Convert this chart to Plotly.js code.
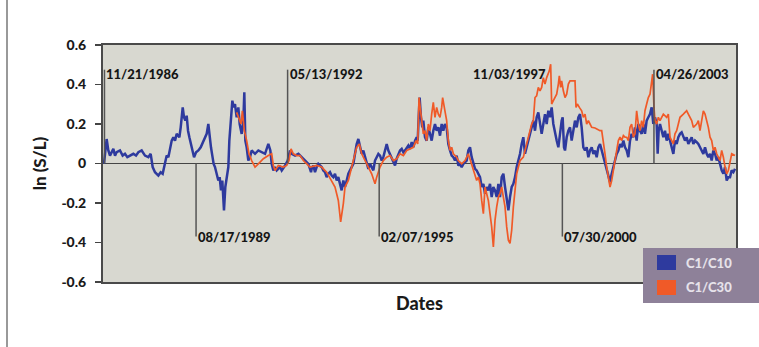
<!DOCTYPE html>
<html>
<head>
<meta charset="utf-8">
<script src="https://cdn.plot.ly/plotly-3.0.1.min.js"></script>
<style>html,body{margin:0;padding:0;background:#fff;}#chart{width:759px;height:347px;}</style>
</head>
<body>
<div id="chart"></div>
<script>
// ---- data (x in decimal years, y = ln(S/L)) ----
const seriesNames = ['C1/C10', 'C1/C30'];

const c10Dates = [
1986.874,1986.953,1987.003,1987.053,1987.153,1987.203,1987.252,1987.352,1987.432,1987.502,1987.572,1987.651,1987.751,1987.831,1987.901,1988.000,1988.100,1988.200,1988.269,1988.329,1988.399,1988.499,1988.568,1988.628,1988.698,1988.748,1988.798,1988.848,1988.898,1988.947,1988.997,1989.047,1989.127,1989.167,1989.227,1989.266,1989.306,1989.346,1989.386,1989.426,1989.466,1989.506,1989.566,1989.626,1989.695,1989.765,1989.845,1989.943,1989.993,
1990.033,1990.072,1990.112,1990.152,1990.192,1990.242,1990.292,1990.332,1990.371,1990.411,1990.461,1990.501,1990.551,1990.591,1990.621,1990.661,1990.711,1990.750,1990.790,1990.840,1990.890,1990.930,1990.990,1991.040,1991.069,1991.099,1991.139,1991.189,1991.239,1991.289,1991.389,1991.488,1991.588,1991.688,1991.787,1991.847,1991.887,1991.937,1991.987,1992.037,1992.136,1992.186,1992.286,1992.366,1992.435,1992.485,1992.585,1992.685,1992.784,1992.884,1992.984,1993.063,
1993.082,1993.132,1993.182,1993.231,1993.281,1993.331,1993.381,1993.431,1993.481,1993.530,1993.580,1993.630,1993.680,1993.730,1993.780,1993.830,1993.879,1993.929,1993.979,1994.029,1994.079,1994.129,1994.179,1994.228,1994.278,1994.328,1994.378,1994.428,1994.478,1994.528,1994.577,1994.627,1994.677,1994.727,1994.777,1994.827,1994.876,1994.926,1994.976,1995.026,1995.076,1995.126,1995.176,1995.225,1995.275,1995.325,1995.375,1995.425,1995.475,1995.525,1995.574,1995.624,1995.674,1995.724,1995.774,1995.824,1995.874,1995.923,1995.973,1996.023,1996.073,1996.123,1996.173,1996.222,1996.252,1996.282,1996.310,
1996.350,1996.390,1996.420,1996.470,1996.520,1996.570,1996.620,1996.670,1996.719,1996.769,1996.819,1996.869,1996.919,1996.969,1997.018,1997.068,1997.118,1997.168,1997.218,1997.268,1997.318,1997.367,1997.417,1997.467,1997.517,1997.567,1997.617,1997.667,1997.716,1997.766,1997.816,1997.866,1997.916,1997.966,1998.015,1998.065,1998.115,1998.165,1998.215,1998.265,1998.315,1998.364,1998.414,1998.464,1998.514,1998.564,1998.614,1998.664,1998.713,1998.763,1998.813,1998.863,1998.913,1998.963,1999.012,1999.062,1999.112,1999.162,1999.212,1999.262,1999.312,1999.361,
1999.410,1999.460,1999.509,1999.559,1999.609,1999.659,1999.709,1999.759,1999.809,1999.858,1999.908,1999.958,2000.008,2000.058,2000.108,2000.157,2000.207,2000.257,2000.307,2000.357,2000.407,2000.457,2000.506,2000.556,2000.586,2000.626,2000.656,2000.706,2000.756,2000.806,2000.855,2000.905,2000.955,2001.005,2001.055,2001.105,2001.154,2001.204,2001.254,2001.304,2001.354,2001.404,2001.454,2001.503,2001.553,2001.603,2001.653,2001.703,2001.753,2001.803,2001.852,2001.902,2001.952,2002.002,2002.052,2002.102,2002.151,2002.201,2002.251,2002.301,2002.351,2002.401,2002.450,2002.500,
2002.549,2002.599,2002.648,2002.698,2002.748,2002.798,2002.848,2002.898,2002.948,2002.997,2003.047,2003.097,2003.147,2003.197,2003.247,2003.296,2003.346,2003.396,2003.426,2003.456,2003.496,2003.546,2003.596,2003.645,2003.695,2003.745,2003.795,2003.845,2003.895,2003.944,2003.994,2004.044,2004.094,2004.144,2004.194,2004.243,2004.293,2004.343,2004.393,2004.443,2004.493,2004.543,2004.593,2004.642,2004.692,2004.742,2004.792,2004.842,2004.892,2004.941,2004.991,2005.041,2005.091,2005.141,2005.191,2005.240,2005.290,2005.340,2005.390,2005.440,2005.490,2005.539,2005.589,2005.639,2005.689,2005.739
];
const c10Values = [
0.000,0.124,0.066,0.040,0.074,0.040,0.057,0.066,0.040,0.049,0.032,0.040,0.049,0.040,0.057,0.066,0.040,0.032,0.049,-0.018,-0.044,-0.061,-0.044,-0.052,0.007,0.040,0.032,0.082,0.116,0.133,0.116,0.150,0.133,0.183,0.284,0.234,0.217,0.242,0.166,0.133,0.099,0.066,0.032,0.057,0.066,0.082,0.116,0.150,0.200,
0.133,0.082,0.040,-0.002,-0.018,-0.052,-0.086,-0.069,-0.136,-0.086,-0.237,-0.119,-0.069,-0.018,0.116,0.200,0.318,0.284,0.301,0.234,0.284,0.200,0.150,0.217,0.360,0.116,0.082,0.015,0.032,0.066,0.049,0.066,0.057,0.049,0.099,0.066,-0.002,-0.035,-0.018,-0.035,-0.018,-0.035,-0.010,0.015,0.066,0.049,0.040,0.049,0.032,0.015,-0.002,-0.044,
-0.027,-0.010,-0.044,-0.018,-0.002,-0.010,-0.018,-0.035,-0.044,-0.069,-0.052,-0.044,-0.061,-0.069,-0.052,-0.086,-0.069,-0.103,-0.136,-0.086,-0.119,-0.086,-0.052,-0.035,-0.018,-0.002,0.049,0.099,0.124,0.082,0.049,0.066,0.032,-0.002,-0.027,-0.002,-0.018,-0.035,0.015,0.032,0.049,0.040,0.015,0.032,0.066,0.099,0.066,0.049,0.032,0.015,-0.010,0.024,0.049,0.066,0.074,0.057,0.066,0.082,0.091,0.074,0.108,0.082,0.116,0.133,0.116,0.234,0.334,
0.234,0.183,0.217,0.133,0.116,0.183,0.150,0.116,0.166,0.200,0.166,0.183,0.141,0.200,0.166,0.200,0.183,0.099,0.066,0.040,0.032,0.015,0.040,-0.010,-0.002,-0.018,-0.002,0.007,0.015,0.066,0.082,0.032,-0.002,-0.027,-0.035,-0.052,-0.069,-0.119,-0.103,-0.153,-0.119,-0.136,-0.103,-0.170,-0.119,-0.136,-0.170,-0.103,-0.170,-0.069,-0.052,-0.119,-0.187,-0.237,-0.170,-0.119,-0.103,-0.069,-0.018,0.015,0.049,0.099,
0.133,0.049,0.082,0.116,0.150,0.183,0.217,0.166,0.234,0.259,0.200,0.150,0.200,0.250,0.200,0.267,0.234,0.284,0.200,0.150,0.116,0.082,0.166,0.217,0.234,0.082,0.066,0.133,0.166,0.183,0.116,0.166,0.217,0.183,0.234,0.250,0.183,0.082,0.066,0.082,0.032,0.066,0.082,0.049,0.066,0.032,0.082,0.099,0.066,0.032,-0.002,-0.035,-0.069,-0.094,-0.052,-0.018,0.015,0.049,0.066,0.099,0.082,0.116,0.082,0.066,
0.032,0.116,0.150,0.133,0.183,0.116,0.200,0.166,0.150,0.200,0.150,0.217,0.234,0.250,0.284,0.200,0.234,0.200,0.049,0.166,0.200,0.166,0.133,0.166,0.116,0.150,0.116,0.082,0.049,0.116,0.099,0.133,0.150,0.158,0.141,0.116,0.133,0.099,0.116,0.133,0.099,0.116,0.108,0.099,0.082,0.066,0.049,0.082,0.049,0.032,0.049,0.015,0.066,0.049,0.015,0.032,-0.002,-0.035,-0.052,-0.018,-0.086,-0.069,-0.069,-0.035,-0.044,-0.027
];

const c30Dates = [
1990.840,1990.890,1990.970,1991.010,1991.069,1991.139,1991.209,1991.289,1991.389,1991.488,1991.638,1991.787,1991.887,1991.937,1991.987,1992.086,1992.236,1992.336,1992.405,1992.465,1992.535,1992.635,1992.734,1992.834,1992.934,1993.033,
1993.231,1993.381,1993.530,1993.680,1993.780,1993.879,1993.949,1994.029,1994.079,1994.179,1994.248,1994.328,1994.428,1994.508,1994.577,1994.677,1994.777,1994.876,1994.976,1995.026,1995.126,1995.225,1995.325,1995.425,1995.525,1995.624,1995.724,1995.824,1995.923,1996.023,1996.123,1996.202,1996.252,1996.292,
1996.370,1996.420,1996.470,1996.520,1996.570,1996.620,1996.670,1996.719,1996.769,1996.819,1996.869,1996.919,1996.969,1996.998,1997.048,1997.118,1997.168,1997.218,1997.268,1997.318,1997.417,1997.467,1997.567,1997.667,1997.766,1997.866,1997.966,1998.015,1998.065,1998.115,1998.165,1998.215,1998.265,1998.315,1998.364,1998.414,1998.464,1998.514,1998.564,1998.614,1998.664,1998.713,1998.763,1998.813,1998.863,1998.913,1998.963,1999.012,1999.062,1999.112,1999.162,1999.212,1999.262,1999.312,
1999.410,1999.460,1999.509,1999.559,1999.609,1999.659,1999.709,1999.759,1999.809,1999.858,1999.908,1999.958,2000.008,2000.058,2000.108,2000.157,2000.187,2000.227,2000.257,2000.307,2000.357,2000.407,2000.457,2000.486,2000.526,2000.556,2000.606,2000.656,2000.706,2000.756,2000.806,2000.955,2000.985,2001.025,2001.085,2001.154,2001.204,2001.254,2001.304,2001.354,2001.404,2001.454,2001.553,2001.703,2001.753,2001.803,2001.852,2001.902,2001.952,2002.002,2002.052,2002.102,2002.151,2002.201,2002.251,2002.301,2002.351,2002.401,2002.450,2002.500,2002.550,
2002.599,2002.648,2002.698,2002.748,2002.798,2002.848,2002.898,2002.948,2002.997,2003.047,2003.097,2003.147,2003.197,2003.247,2003.276,2003.316,2003.346,2003.396,2003.446,2003.496,2003.546,2003.596,2003.695,2003.745,2003.795,2003.845,2003.895,2003.944,2003.994,2004.044,2004.094,2004.194,2004.293,2004.343,2004.393,2004.443,2004.493,2004.593,2004.642,2004.692,2004.742,2004.792,2004.842,2004.892,2004.941,2004.991,2005.041,2005.091,2005.141,2005.191,2005.240,2005.290,2005.340,2005.390,2005.440,2005.490,2005.539,2005.589,2005.639,2005.739
];
const c30Values = [
0.259,0.234,0.200,0.267,0.166,0.116,0.049,0.015,-0.018,-0.002,0.024,0.040,0.049,-0.010,-0.035,-0.010,-0.018,-0.010,0.015,0.074,0.049,0.040,0.040,0.015,-0.002,-0.018,
-0.010,-0.018,-0.044,-0.086,-0.119,-0.187,-0.296,-0.203,-0.119,-0.086,-0.044,0.015,0.082,0.099,0.049,0.015,-0.018,-0.052,-0.103,-0.069,-0.018,0.015,0.032,0.040,0.015,0.024,0.049,0.040,0.066,0.074,0.082,0.116,0.099,0.334,
0.217,0.150,0.166,0.116,0.200,0.166,0.250,0.309,0.234,0.284,0.250,0.234,0.284,0.334,0.284,0.217,0.116,0.066,0.082,0.049,0.032,0.015,-0.002,0.015,0.049,-0.002,-0.052,-0.086,-0.069,-0.103,-0.187,-0.254,-0.119,-0.153,-0.187,-0.254,-0.321,-0.422,-0.287,-0.220,-0.170,-0.153,-0.119,-0.170,-0.220,-0.321,-0.388,-0.405,-0.338,-0.220,-0.119,-0.052,-0.018,0.015,
0.032,0.066,0.099,0.133,0.166,0.200,0.217,0.334,0.343,0.385,0.368,0.385,0.435,0.402,0.435,0.452,0.469,0.503,0.301,0.318,0.334,0.351,0.402,0.444,0.385,0.418,0.368,0.334,0.351,0.402,0.418,0.418,0.284,0.301,0.284,0.267,0.234,0.250,0.200,0.217,0.200,0.183,0.180,0.166,0.166,0.116,0.049,-0.018,-0.069,-0.119,-0.086,-0.035,0.032,0.082,0.116,0.133,0.116,0.141,0.133,0.133,0.116,
0.183,0.200,0.133,0.150,0.267,0.200,0.166,0.217,0.183,0.267,0.301,0.334,0.351,0.402,0.452,0.284,0.217,0.200,0.234,0.217,0.234,0.250,0.234,0.250,0.133,0.116,0.099,0.150,0.166,0.200,0.234,0.250,0.267,0.250,0.234,0.217,0.183,0.200,0.217,0.166,0.217,0.267,0.250,0.217,0.183,0.133,0.116,0.066,0.082,0.049,0.032,0.015,0.066,0.032,-0.018,-0.052,-0.035,0.015,0.049,0.040
];

// event markers
const eventLabels = ['11/21/1986','08/17/1989','05/13/1992','02/07/1995','11/03/1997','07/30/2000','04/26/2003'];
const eventDates  = [1986.888, 1989.626, 1992.363, 1995.101, 1997.839, 2000.577, 2003.315];

const yTickValues = [-0.6,-0.4,-0.2,0,0.2,0.4,0.6];
const yTickLabels = ['-0.6','-0.4','-0.2','0','0.2','0.4','0.6'];

// ---- styling / layout ----
const BLUE = '#2e3a9e', ORANGE = '#f05a28';
const W = 759, H = 347, ML = 103, MR = 23, MT = 45, MB = 65;
const PW = W - ML - MR, PH = H - MT - MB;
const px = x => (x - ML) / PW;          // pixel -> paper x
const py = y => (H - MB - y) / PH;      // pixel -> paper y
const FONT = 'Lato, "Open Sans", sans-serif';
const HEAVY = 900;

const traces = [
  {x: c10Dates, y: c10Values, type: 'scatter', mode: 'lines', name: seriesNames[0],
   line: {color: BLUE, width: 2.5}, showlegend: false, hoverinfo: 'skip'},
  {x: c30Dates, y: c30Values, type: 'scatter', mode: 'lines', name: seriesNames[1],
   line: {color: ORANGE, width: 1.7}, showlegend: false, hoverinfo: 'skip'}
];

const shapes = [];
const annotations = [];
eventLabels.forEach((lab, i) => {
  const up = i % 2 === 0;
  if (i !== 4) {
    shapes.push({type: 'line', xref: 'x', yref: 'y', x0: eventDates[i], x1: eventDates[i],
      y0: 0, y1: up ? 0.475 : -0.37, line: {color: '#555', width: 1.5}});
  }
  annotations.push({xref: 'x', yref: 'y', x: eventDates[i], y: up ? 0.452 : -0.373,
    text: lab, showarrow: false, xanchor: 'left', yanchor: 'middle', xshift: 0,
    font: {family: FONT, size: 13, color: '#151515', weight: HEAVY}});
});

// left page rule
shapes.push({type: 'line', xref: 'paper', yref: 'paper', x0: px(7), x1: px(7), y0: py(347), y1: py(0),
  line: {color: '#999', width: 2}});
// legend box
shapes.push({type: 'rect', xref: 'paper', yref: 'paper', x0: px(643), x1: px(760), y0: py(303), y1: py(248),
  fillcolor: '#8e8199', line: {width: 0}, layer: 'above'});
shapes.push({type: 'rect', xref: 'paper', yref: 'paper', x0: px(657), x1: px(676), y0: py(270), y1: py(255),
  fillcolor: BLUE, line: {width: 0}, layer: 'above'});
shapes.push({type: 'rect', xref: 'paper', yref: 'paper', x0: px(657), x1: px(676), y0: py(295), y1: py(280),
  fillcolor: ORANGE, line: {width: 0}, layer: 'above'});
annotations.push({xref: 'paper', yref: 'paper', x: px(684), y: py(263), text: seriesNames[0], showarrow: false,
  xanchor: 'left', yanchor: 'middle', font: {family: FONT, size: 13, color: '#e6e2ea', weight: HEAVY}});
annotations.push({xref: 'paper', yref: 'paper', x: px(684), y: py(287), text: seriesNames[1], showarrow: false,
  xanchor: 'left', yanchor: 'middle', font: {family: FONT, size: 13, color: '#e6e2ea', weight: HEAVY}});

const layout = {
  width: W, height: H,
  margin: {l: ML, r: MR, t: MT, b: MB, pad: 0},
  paper_bgcolor: '#ffffff',
  plot_bgcolor: '#d8d8d0',
  showlegend: false,
  font: {family: FONT, color: '#222'},
  xaxis: {
    range: [1986.844, 2005.768], showgrid: false, zeroline: false,
    showticklabels: false, ticks: '', showline: true, mirror: true,
    linecolor: '#4a4a4a', linewidth: 2,
    title: {text: 'Dates', standoff: 14, font: {family: FONT, size: 18, color: '#1a1a1a', weight: HEAVY}}
  },
  yaxis: {
    range: [-0.6, 0.6], tickvals: yTickValues, ticktext: yTickLabels,
    ticks: 'outside', ticklen: 6, tickwidth: 1.5, tickcolor: '#444',
    tickfont: {family: FONT, size: 14, color: '#1a1a1a', weight: HEAVY},
    ticklabelstandoff: 6,
    showgrid: false, zeroline: true, zerolinecolor: '#444', zerolinewidth: 1.5,
    showline: true, mirror: true, linecolor: '#4a4a4a', linewidth: 2,
    title: {text: 'ln (S/L)', standoff: 10, font: {family: FONT, size: 17, color: '#1a1a1a', weight: HEAVY}}
  },
  shapes: shapes,
  annotations: annotations
};

Plotly.newPlot('chart', traces, layout, {staticPlot: true, displayModeBar: false});
</script>
</body>
</html>
